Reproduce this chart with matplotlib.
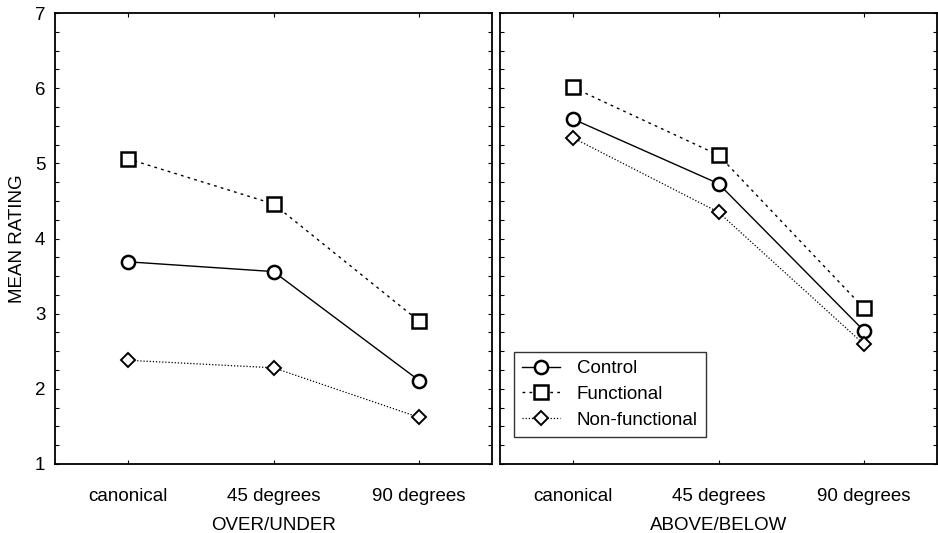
import numpy as np
import matplotlib.pyplot as plt
from matplotlib.ticker import MultipleLocator

plt.rcParams['font.family'] = ['Liberation Sans', 'DejaVu Sans']

conditions = ['canonical', '45 degrees', '90 degrees']
panels = ['OVER/UNDER', 'ABOVE/BELOW']

# mean ratings per panel: control, functional, non-functional
control = [[3.69, 3.56, 2.11], [5.59, 4.73, 2.77]]
functional = [[5.06, 4.46, 2.90], [6.01, 5.11, 3.07]]
nonfunctional = [[2.38, 2.28, 1.62], [5.34, 4.35, 2.59]]

fig = plt.figure(figsize=(9.38, 5.33), dpi=100)
ax1 = fig.add_axes([55/938, 1-464/533, 437/938, 451/533])
ax2 = fig.add_axes([500/938, 1-464/533, 437/938, 451/533])

x = np.arange(len(conditions))
for i, ax in enumerate([ax1, ax2]):
    ax.plot(x, control[i], color='black', lw=1.0, ls='-', marker='o', ms=9.5,
            mfc='white', mec='black', mew=1.8, label='Control')
    ax.plot(x, functional[i], color='black', lw=1.0, ls=(0, (2, 3)), marker='s', ms=9.5,
            mfc='white', mec='black', mew=1.8, label='Functional')
    ax.plot(x, nonfunctional[i], color='black', lw=0.9, ls=(0, (1, 1.5)), marker='D', ms=7,
            mfc='white', mec='black', mew=1.4, label='Non-functional')
    ax.set_xlim(-0.5, 2.5)
    ax.set_ylim(1, 7)
    ax.set_xticks(x)
    ax.set_xticklabels(conditions, fontsize=13.5)
    ax.yaxis.set_major_locator(MultipleLocator(1))
    ax.yaxis.set_minor_locator(MultipleLocator(0.25))
    ax.tick_params(which='both', direction='in', top=True, right=True, length=3, width=0.8)
    ax.tick_params(axis='x', pad=17)
    ax.set_xlabel(panels[i], fontsize=13.5, labelpad=9)
    for s in ax.spines.values():
        s.set_linewidth(1.3)

ax1.set_ylabel('MEAN RATING', fontsize=13.5, labelpad=6)
ax1.tick_params(axis='y', labelsize=13.5, pad=7)
ax2.set_yticklabels([])

leg = ax2.legend(loc='lower left', bbox_to_anchor=(0.032, 0.06), borderaxespad=0,
                 fontsize=13.5, frameon=True, fancybox=False, edgecolor='black',
                 handlelength=2.0, borderpad=0.45, labelspacing=0.45, handletextpad=0.9)
leg.get_frame().set_linewidth(1.0)

fig.savefig('out.png', dpi=100)
